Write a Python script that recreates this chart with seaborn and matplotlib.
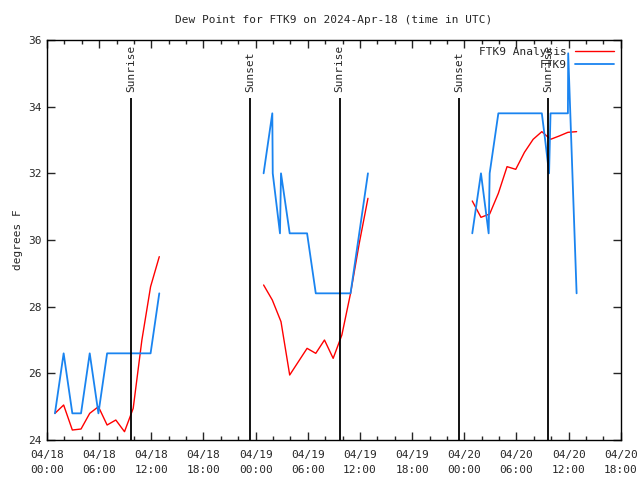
import pandas as pd
import matplotlib
matplotlib.use('Agg')
import matplotlib.pyplot as plt
import matplotlib.dates as mdates
from matplotlib.lines import Line2D
import seaborn as sns

sns.set_style('ticks')
plt.rcParams['font.family'] = ['DejaVu Sans Mono', 'DejaVu Sans']

# FTK9 observations (deg F), three daytime runs
obs_time_1 = ['04-18 00:55', '04-18 01:55', '04-18 02:55', '04-18 03:55', '04-18 04:55',
              '04-18 05:55', '04-18 06:55', '04-18 07:55', '04-18 08:55', '04-18 09:55',
              '04-18 10:55', '04-18 11:55', '04-18 12:55']
obs_val_1 = [24.8, 26.6, 24.8, 24.8, 26.6, 24.8, 26.6, 26.6, 26.6, 26.6, 26.6, 26.6, 28.4]

obs_time_2 = ['04-19 00:55', '04-19 01:55', '04-19 01:58', '04-19 02:48', '04-19 02:55',
              '04-19 03:55', '04-19 04:55', '04-19 05:55', '04-19 06:55', '04-19 07:55',
              '04-19 08:55', '04-19 09:55', '04-19 10:55', '04-19 11:55', '04-19 12:55']
obs_val_2 = [32.0, 33.8, 32.0, 30.2, 32.0, 30.2, 30.2, 30.2, 28.4, 28.4,
             28.4, 28.4, 28.4, 30.2, 32.0]

obs_time_3 = ['04-20 00:55', '04-20 01:55', '04-20 02:48', '04-20 02:55', '04-20 03:55',
              '04-20 04:55', '04-20 05:55', '04-20 06:55', '04-20 07:55', '04-20 08:55',
              '04-20 09:18', '04-20 09:45', '04-20 09:55', '04-20 10:55', '04-20 11:55',
              '04-20 11:57', '04-20 12:55']
obs_val_3 = [30.2, 32.0, 30.2, 32.0, 33.8, 33.8, 33.8, 33.8, 33.8, 33.8,
             33.0, 32.0, 33.8, 33.8, 33.8, 35.6, 28.4]

# hourly analysis (deg F)
ana_val_1 = [24.8, 25.05, 24.3, 24.33, 24.8, 25.0, 24.45, 24.6, 24.25, 24.95, 27.0, 28.6, 29.5]
ana_val_2 = [28.65, 28.2, 27.55, 25.95, 26.35, 26.75, 26.6, 27.0, 26.45, 27.15, 28.4, 29.9, 31.25]
ana_val_3 = [31.17, 30.68, 30.78, 31.4, 32.2, 32.12, 32.63, 33.02, 33.25, 33.02, 33.12, 33.23, 33.25]
ana_days = ['04-18', '04-19', '04-20']

sun_times = ['04-18 09:40', '04-18 23:20', '04-19 09:40', '04-19 23:22', '04-20 09:37']
sun_labels = ['Sunrise', 'Sunset', 'Sunrise', 'Sunset', 'Sunrise']

RED = '#ff0000'
BLUE = '#1a84f0'


def to_time(s):
    return pd.to_datetime('2024-' + s, format='%Y-%m-%d %H:%M')


# build long tables, one unit per run so gaps stay open
obs_rows = []
for seg, (tt, vv) in enumerate([(obs_time_1, obs_val_1), (obs_time_2, obs_val_2),
                                (obs_time_3, obs_val_3)]):
    for t, v in zip(tt, vv):
        obs_rows.append({'time': to_time(t), 'dewp': v, 'seg': seg})
obs = pd.DataFrame(obs_rows)

ana_rows = []
for seg, (day, vv) in enumerate(zip(ana_days, [ana_val_1, ana_val_2, ana_val_3])):
    for h, v in enumerate(vv):
        ana_rows.append({'time': to_time(f'{day} {h:02d}:55'), 'dewp': v, 'seg': seg})
ana = pd.DataFrame(ana_rows)

fig, ax = plt.subplots(figsize=(6.4, 4.8), dpi=100)
fig.subplots_adjust(left=0.0734, right=0.970, bottom=0.0833, top=0.9167)

sns.lineplot(data=ana, x='time', y='dewp', units='seg', estimator=None, sort=False,
             color=RED, lw=1.0, ax=ax, legend=False)
sns.lineplot(data=obs, x='time', y='dewp', units='seg', estimator=None, sort=False,
             color=BLUE, lw=1.3, ax=ax, legend=False)

# sunrise / sunset markers
for t, lab in zip(sun_times, sun_labels):
    tt = to_time(t)
    ax.vlines(tt, 24, 34.25, color='black', lw=1.3)
    ax.text(tt, 34.45, lab, rotation=90, ha='center', va='bottom', fontsize=8)

ax.set_xlim(to_time('04-18 00:00'), to_time('04-20 18:00'))
ax.set_ylim(24, 36)
ax.set_yticks(range(24, 37, 2))
ax.xaxis.set_major_locator(mdates.HourLocator(byhour=[0, 6, 12, 18]))
ax.xaxis.set_minor_locator(mdates.HourLocator(interval=2))
ax.xaxis.set_major_formatter(mdates.DateFormatter('%m/%d\n%H:%M'))
ax.tick_params(which='both', direction='in', top=True, right=True, labelsize=8, width=1)
ax.tick_params(which='major', length=6)
ax.tick_params(which='minor', length=3)
ax.tick_params(axis='x', pad=7)
for lbl in ax.get_xticklabels():
    lbl.set_linespacing(1.7)
for sp in ax.spines.values():
    sp.set_linewidth(1.0)
    sp.set_color('black')

ax.set_xlabel('')
ax.set_ylabel('degrees F', fontsize=8)
ax.set_title('Dew Point for FTK9 on 2024-Apr-18 (time in UTC)', fontsize=8, pad=12)

handles = [Line2D([], [], color=RED, lw=1.0), Line2D([], [], color=BLUE, lw=1.3)]
ax.legend(handles, ['FTK9 Analysis', 'FTK9'], loc='upper right', frameon=False,
          markerfirst=False, fontsize=8, handlelength=3.5, borderaxespad=0.2,
          labelspacing=0.3)

fig.savefig('out.png', dpi=100)
